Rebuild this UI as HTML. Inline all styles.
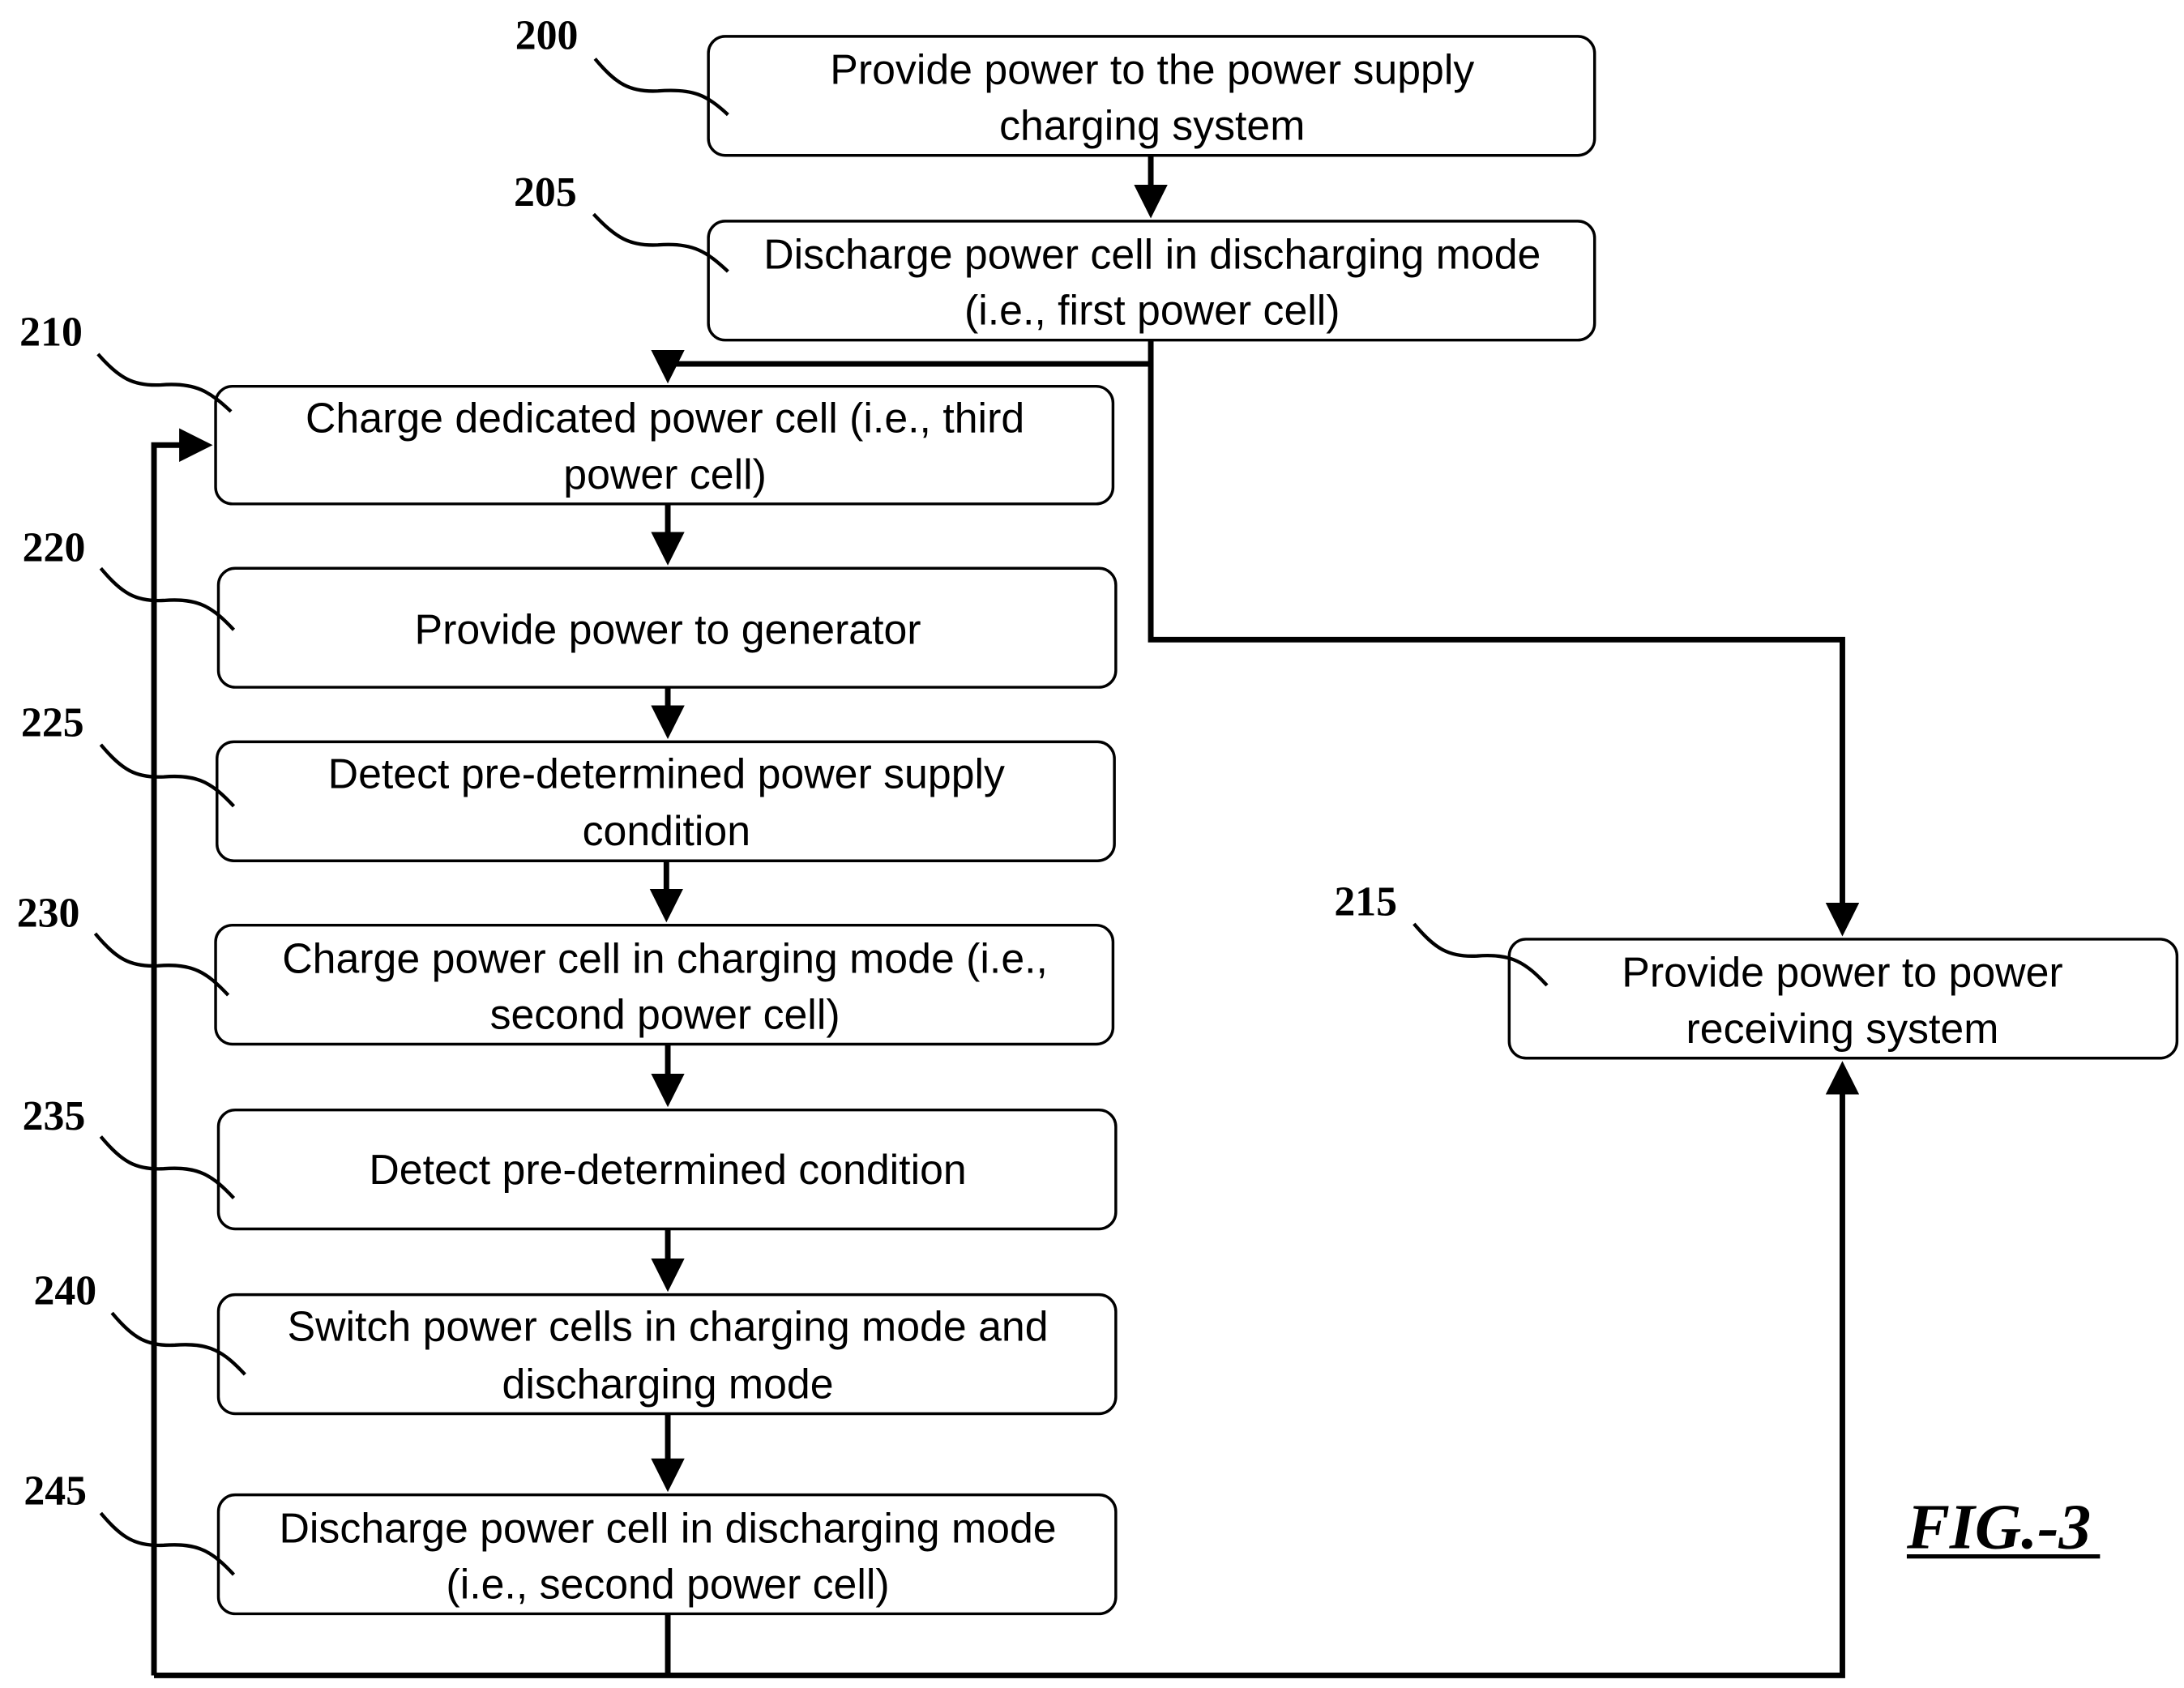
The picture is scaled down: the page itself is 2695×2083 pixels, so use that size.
<!DOCTYPE html>
<html><head><meta charset="utf-8"><style>
html,body{margin:0;padding:0;background:#fff;}
svg{display:block;}
.b{fill:#fff;stroke:#000;stroke-width:2;}
.t{font-family:"Liberation Sans",sans-serif;font-size:30px;text-anchor:middle;fill:#000;}
.n{font-family:"Liberation Serif",serif;font-weight:bold;font-size:30px;fill:#000;}
.l{fill:none;stroke:#000;stroke-width:4;}
.c{fill:none;stroke:#000;stroke-width:2.5;}
</style></head><body>
<svg width="2695" height="2083" viewBox="0 0 1560 1206" preserveAspectRatio="none" xmlns="http://www.w3.org/2000/svg">
<defs><marker id="a" markerWidth="6" markerHeight="6" refX="5" refY="3" orient="auto" markerUnits="strokeWidth"><path d="M0,0 L6,3 L0,6 z" fill="#000"/></marker></defs>
<rect class="b" x="506" y="26" width="633" height="85" rx="12"/>
<rect class="b" x="506" y="158" width="633" height="85" rx="12"/>
<rect class="b" x="154" y="276" width="641" height="84" rx="12"/>
<rect class="b" x="156" y="406" width="641" height="85" rx="12"/>
<rect class="b" x="155" y="530" width="641" height="85" rx="12"/>
<rect class="b" x="154" y="661" width="641" height="85" rx="12"/>
<rect class="b" x="156" y="793" width="641" height="85" rx="12"/>
<rect class="b" x="156" y="925" width="641" height="85" rx="12"/>
<rect class="b" x="156" y="1068" width="641" height="85" rx="12"/>
<rect class="b" x="1078" y="671" width="477" height="85" rx="12"/>
<text class="t" x="823" y="60">Provide power to the power supply</text>
<text class="t" x="823" y="100">charging system</text>
<text class="t" x="823" y="192">Discharge power cell in discharging mode</text>
<text class="t" x="823" y="232">(i.e., first power cell)</text>
<text class="t" x="475" y="309">Charge dedicated power cell (i.e., third</text>
<text class="t" x="475" y="349">power cell)</text>
<text class="t" x="477" y="460">Provide power to generator</text>
<text class="t" x="476" y="563">Detect pre-determined power supply</text>
<text class="t" x="476" y="604">condition</text>
<text class="t" x="475" y="695">Charge power cell in charging mode (i.e.,</text>
<text class="t" x="475" y="735">second power cell)</text>
<text class="t" x="477" y="846">Detect pre-determined condition</text>
<text class="t" x="477" y="958">Switch power cells in charging mode and</text>
<text class="t" x="477" y="999">discharging mode</text>
<text class="t" x="477" y="1102">Discharge power cell in discharging mode</text>
<text class="t" x="477" y="1142">(i.e., second power cell)</text>
<text class="t" x="1316" y="705">Provide power to power</text>
<text class="t" x="1316" y="745">receiving system</text>
<path class="l" d="M822,111 V152" marker-end="url(#a)"/>
<path class="l" d="M822,243 V260 H477 V270" marker-end="url(#a)"/>
<path class="l" d="M822,260 V457 H1316 V665" marker-end="url(#a)"/>
<path class="l" d="M477,360 V400" marker-end="url(#a)"/>
<path class="l" d="M477,491 V524" marker-end="url(#a)"/>
<path class="l" d="M476,615 V655" marker-end="url(#a)"/>
<path class="l" d="M477,746 V787" marker-end="url(#a)"/>
<path class="l" d="M477,878 V919" marker-end="url(#a)"/>
<path class="l" d="M477,1010 V1062" marker-end="url(#a)"/>
<path class="l" d="M477,1153 V1197"/>
<path class="l" d="M110,1197 H1316 V762" marker-end="url(#a)"/>
<path class="l" d="M110,1197 V318 H148" marker-end="url(#a)"/>
<text class="n" x="368" y="35">200</text>
<text class="n" x="367" y="147">205</text>
<text class="n" x="14" y="247">210</text>
<text class="n" x="16" y="401">220</text>
<text class="n" x="15" y="526">225</text>
<text class="n" x="12" y="662">230</text>
<text class="n" x="16" y="807">235</text>
<text class="n" x="24" y="932">240</text>
<text class="n" x="17" y="1075">245</text>
<text class="n" x="953" y="654">215</text>
<path class="c" d="M425,42 C440,60 450,66 470,65 C495,63 505,68 520,82"/>
<path class="c" d="M424,153 C440,170 450,176 470,175 C495,173 505,180 520,194"/>
<path class="c" d="M70,253 C85,270 95,276 115,275 C140,273 150,280 165,294"/>
<path class="c" d="M72,406 C87,424 97,430 117,429 C142,427 152,434 167,450"/>
<path class="c" d="M72,532 C87,550 97,556 117,555 C142,553 152,560 167,576"/>
<path class="c" d="M68,667 C83,685 93,691 113,690 C138,688 148,695 163,711"/>
<path class="c" d="M72,812 C87,830 97,836 117,835 C142,833 152,840 167,856"/>
<path class="c" d="M80,938 C95,956 105,962 125,961 C150,959 160,966 175,982"/>
<path class="c" d="M72,1081 C87,1099 97,1105 117,1104 C142,1102 152,1109 167,1125"/>
<path class="c" d="M1010,660 C1025,678 1035,684 1055,683 C1080,681 1090,688 1105,704"/>
<text x="1362" y="1106" font-family="Liberation Serif,serif" font-style="italic" font-weight="bold" font-size="46">FIG.-3</text>
<line x1="1362" y1="1112" x2="1500" y2="1112" stroke="#000" stroke-width="3"/>
</svg>
</body></html>
